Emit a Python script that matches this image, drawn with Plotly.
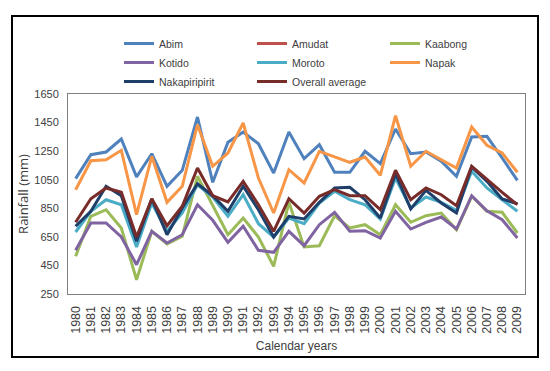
import plotly.graph_objects as go

years = [str(y) for y in range(1980, 2010)]

abim = [1058, 1225, 1244, 1335, 1070, 1232, 1004, 1116, 1489, 1032,
        1312, 1384, 1302, 1097, 1384, 1197, 1295, 1102, 1102, 1249,
        1162, 1405, 1232, 1244, 1179, 1074, 1349, 1354, 1202, 1046]
amudat = [None] * 30
kaabong = [514, 794, 840, 712, 350, 689, 600, 654, 1074, 864,
           665, 782, 649, 444, 892, 579, 588, 798, 712, 735,
           665, 875, 752, 798, 817, 700, 934, 829, 822, 677]
kotido = [556, 747, 747, 649, 455, 689, 607, 665, 875, 766,
          612, 724, 556, 542, 689, 588, 735, 822, 689, 693,
          642, 829, 705, 752, 789, 705, 938, 833, 770, 642]
moroto = [684, 829, 910, 875, 579, 887, 689, 817, 1015, 929,
          794, 945, 742, 649, 782, 742, 887, 969, 910, 875,
          775, 1062, 852, 929, 892, 836, 1109, 992, 910, 829]
napak = [980, 1183, 1190, 1256, 805, 1214, 892, 1004, 1435, 1144,
         1237, 1447, 1062, 817, 1120, 1027, 1249, 1209, 1172, 1209,
         1081, 1498, 1144, 1249, 1190, 1132, 1419, 1291, 1237, 1102]
nakapiripirit = [724, 829, 1004, 938, 619, 915, 665, 852, 1022, 938,
                 829, 1004, 840, 649, 794, 775, 892, 992, 997, 910,
                 782, 1092, 845, 976, 887, 817, 1139, 1039, 915, 882]
overall = [752, 917, 992, 962, 649, 917, 728, 864, 1132, 938,
           894, 1039, 875, 689, 917, 817, 934, 980, 938, 938,
           840, 1116, 910, 992, 945, 868, 1144, 1050, 962, 875]

series = [
    ("Abim", abim, "#4F81BD"),
    ("Amudat", amudat, "#C0504D"),
    ("Kaabong", kaabong, "#9BBB59"),
    ("Kotido", kotido, "#8064A2"),
    ("Moroto", moroto, "#4BACC6"),
    ("Napak", napak, "#F79646"),
    ("Nakapiripirit", nakapiripirit, "#1F3F6B"),
    ("Overall average", overall, "#772C2A"),
]

fig = go.Figure()
for name, vals, col in series:
    fig.add_trace(go.Scatter(x=years, y=vals, name=name, mode="lines",
                             line=dict(color=col, width=3)))

# The page body has an 8px default margin, so the figure is 8px smaller
OFF = 8
W, H = 550 - OFF, 371 - OFF
L, R = 68 - OFF, 550 - 525
T, B = 94 - OFF, 371 - 294
pw = W - L - R
ph = H - T - B

def px(x):
    return (x - OFF - L) / pw

def py(y):
    return (H - B - (y - OFF)) / ph

sans = "Liberation Sans, Arial, sans-serif"

fig.update_layout(
    width=W, height=H,
    margin=dict(l=L, r=R, t=T, b=B, autoexpand=False),
    paper_bgcolor="white", plot_bgcolor="white",
    showlegend=True,
    legend=dict(orientation="h", x=px(119), xanchor="left", y=py(29), yanchor="top",
                entrywidth=88, entrywidthmode="pixels", itemwidth=30,
                font=dict(family=sans, size=10.5, color="#404040"),
                bgcolor="rgba(0,0,0,0)", tracegroupgap=0),
    xaxis=dict(type="category", range=[-0.5, 29.5], tickangle=-90, showgrid=False,
               automargin=False,
               showline=True, linecolor="#7f7f7f", linewidth=1, mirror=True,
               ticks="", ticklabelstandoff=6,
               tickfont=dict(family=sans, size=12.5, color="#404040"),
               title=dict(text="Calendar years", font=dict(family=sans, size=12, color="#404040"), standoff=8)),
    yaxis=dict(range=[250, 1650], tickvals=[250, 450, 650, 850, 1050, 1250, 1450, 1650],
               showgrid=False, zeroline=False, automargin=False,
               showline=True, linecolor="#7f7f7f", linewidth=1, mirror=True,
               ticks="", ticklabelstandoff=6,
               tickfont=dict(family=sans, size=11, color="#404040"),
               title=dict(text="Rainfall (mm)", font=dict(family="Open Sans, sans-serif", size=13, color="#404040"), standoff=2)),
    shapes=[dict(type="rect", xref="paper", yref="paper",
                 x0=px(12), x1=px(538), y0=py(357), y1=py(16),
                 line=dict(color="black", width=2), fillcolor="rgba(0,0,0,0)", layer="below")],
)

fig.write_html("out.html")
